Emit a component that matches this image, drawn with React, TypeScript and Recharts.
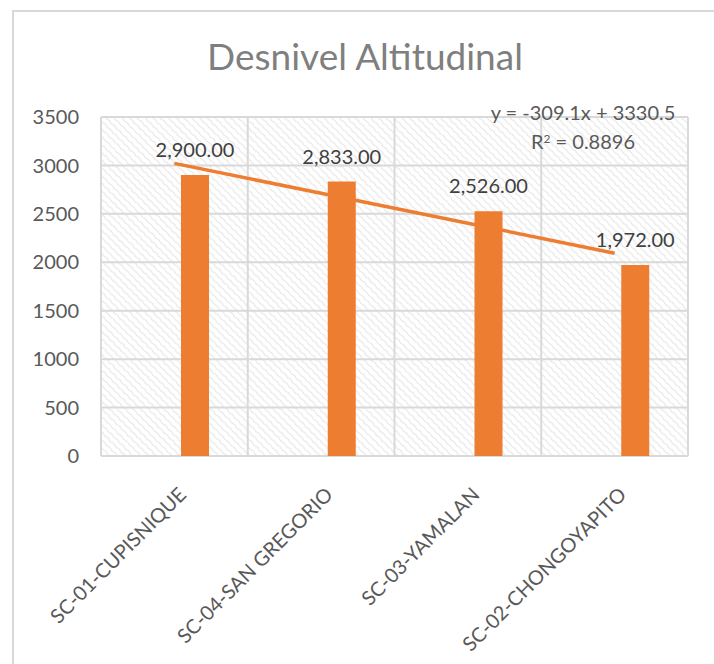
import React from "react";
import { ComposedChart, Bar, Line, XAxis, YAxis, CartesianGrid, LabelList } from "recharts";

const categories = ["SC-01-CUPISNIQUE", "SC-04-SAN GREGORIO", "SC-03-YAMALAN", "SC-02-CHONGOYAPITO"];
const values = [2900, 2833, 2526, 1972];
const yTicks = [0, 500, 1000, 1500, 2000, 2500, 3000, 3500];

// least-squares linear trendline (Excel-style, x = 1..n)
const n = values.length;
const xs = values.map((_, i) => i + 1);
const mx = xs.reduce((a, b) => a + b, 0) / n;
const my = values.reduce((a, b) => a + b, 0) / n;
const slope =
  xs.reduce((s, x, i) => s + (x - mx) * (values[i] - my), 0) /
  xs.reduce((s, x) => s + (x - mx) * (x - mx), 0);
const intercept = my - slope * mx;
const ssTot = values.reduce((s, v) => s + (v - my) * (v - my), 0);
const ssRes = values.reduce((s, v, i) => s + Math.pow(v - (slope * xs[i] + intercept), 2), 0);
const r2 = 1 - ssRes / ssTot;

const data = categories.map((c, i) => ({
  name: c,
  blank: null as number | null,
  value: values[i],
  trend: slope * xs[i] + intercept,
}));

const FONT = "Lato, 'Open Sans', sans-serif";

const XTick = (props: any) => {
  const { x, y, payload } = props;
  return (
    <text
      x={x + 13}
      y={y + 32}
      transform={`rotate(-45, ${x + 13}, ${y + 32})`}
      textAnchor="end"
      fill="#595959"
      fontSize={20}
      fontFamily={FONT}
    >
      {payload.value}
    </text>
  );
};

const fmt = (v: any) =>
  Number(v).toLocaleString("en-US", { minimumFractionDigits: 2, maximumFractionDigits: 2 });

export default function App() {
  return (
    <div style={{ position: "absolute", left: 0, top: 0, width: 714, height: 664, overflow: "hidden", background: "#fff", fontFamily: FONT }}>
      <svg width={0} height={0} style={{ position: "absolute" }}>
        <defs>
          <pattern id="hatch" width={8} height={5.5} patternUnits="userSpaceOnUse" patternTransform="rotate(45)">
            <path d="M0,2.75 Q2,1.9 4,2.75 T8,2.75" stroke="#dedede" strokeWidth={0.9} fill="none" />
          </pattern>
        </defs>
      </svg>
      <div
        style={{
          position: "absolute",
          left: 12,
          top: 10,
          width: 740,
          height: 700,
          border: "2px solid #d9d9d9",
          boxSizing: "border-box",
        }}
      />
      <div
        style={{
          position: "absolute",
          left: 165,
          width: 400,
          top: 33,
          textAlign: "center",
          fontSize: 37,
          fontWeight: 400,
          color: "#7f7f7f",
          lineHeight: "46px",
          whiteSpace: "nowrap",
        }}
      >
        Desnivel Altitudinal
      </div>
      <div style={{ position: "absolute", left: 0, top: 0 }}>
        <ComposedChart
          width={714}
          height={664}
          data={data}
          margin={{ top: 117, right: 26, left: 21, bottom: 0 }}
          barSize={28}
          barGap={14}
        >
          <CartesianGrid
            stroke="#d9d9d9"
            strokeWidth={2}
            fill="url(#hatch)"
            fillOpacity={1}
            verticalCoordinatesGenerator={(p: any) => {
              const o = p.offset;
              return [0, 1, 2, 3, 4].map((i) => o.left + (i * o.width) / 4);
            }}
          />
          <XAxis
            dataKey="name"
            axisLine={false}
            tickLine={false}
            interval={0}
            height={208}
            tick={<XTick />}
          />
          <YAxis
            domain={[0, 3500]}
            ticks={yTicks}
            axisLine={false}
            tickLine={false}
            tickSize={0}
            tickMargin={22}
            width={80}
            tick={{ fill: "#595959", fontSize: 20, fontFamily: FONT }}
          />
          <Bar dataKey="blank" fill="#4472C4" isAnimationActive={false} />
          <Bar dataKey="value" fill="#ED7D31" isAnimationActive={false}>
            <LabelList
              dataKey="value"
              position="top"
              offset={18}
              formatter={fmt}
              fill="#404040"
              fontSize={20}
              fontFamily={FONT}
            />
          </Bar>
          <Line
            dataKey="trend"
            stroke="#ED7D31"
            strokeWidth={3.5}
            dot={false}
            activeDot={false}
            isAnimationActive={false}
          />
        </ComposedChart>
      </div>
      <div
        style={{
          position: "absolute",
          left: 483,
          width: 200,
          top: 98,
          textAlign: "center",
          fontSize: 20,
          color: "#595959",
          lineHeight: "29px",
          whiteSpace: "nowrap",
        }}
      >
        <div>{`y = ${slope.toFixed(1)}x + ${intercept.toFixed(1)}`}</div>
        <div>
          R<sup style={{ fontSize: 12, verticalAlign: "6px", lineHeight: 0 }}>2</sup> = {r2.toFixed(4)}
        </div>
      </div>
    </div>
  );
}
